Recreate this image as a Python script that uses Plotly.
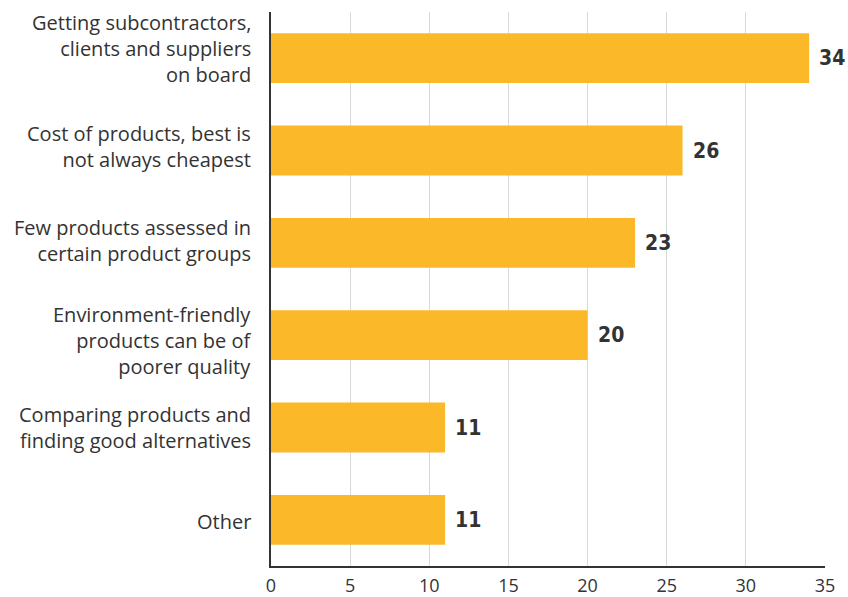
import plotly.graph_objects as go

categories = [
    "Getting subcontractors,<br>clients and suppliers<br>on board",
    "Cost of products, best is<br>not always cheapest",
    "Few products assessed in<br>certain product groups",
    "Environment-friendly<br>products can be of<br>poorer quality",
    "Comparing products and<br>finding good alternatives",
    "Other",
]
values = [34, 26, 23, 20, 11, 11]
x_ticks = [0, 5, 10, 15, 20, 25, 30, 35]

# small vertical nudges of the category labels (style only)
label_yshift = [10, 4, 2, -5, 0, -2]

fig = go.Figure(go.Bar(
    y=categories, x=values, orientation="h",
    marker=dict(color="#FBB829", line=dict(width=0)),
    width=0.54,
))

for c, v, dy in zip(categories, values, label_yshift):
    fig.add_annotation(
        x=v, y=c, text=f"{v}", showarrow=False,
        xanchor="left", xshift=8,
        font=dict(family="DejaVu Sans Condensed, Roboto", size=21, color="#333333", weight=700),
    )
    fig.add_annotation(
        x=0, xref="paper", y=c, text=c, showarrow=False,
        xanchor="right", align="right", xshift=-18, yshift=dy,
        font=dict(family="Open Sans", size=20, color="#333333"),
    )

fig.update_layout(
    width=848, height=597,
    margin=dict(l=271, r=23, t=12, b=31, autoexpand=False),
    plot_bgcolor="white", paper_bgcolor="white",
    showlegend=False,
    font=dict(family="Open Sans", size=20, color="#333333"),
)
fig.update_xaxes(
    range=[0, 35], tickvals=x_ticks, showgrid=True, gridcolor="#d9d9d9", gridwidth=1,
    showline=True, linecolor="#333333", linewidth=1.5, zeroline=False,
    tickfont=dict(size=18, color="#333333"), ticks="", ticklabelstandoff=3,
    automargin=False,
)
fig.update_yaxes(
    autorange="reversed", showline=True, linecolor="#333333", linewidth=1.5,
    showgrid=False, ticks="", showticklabels=False, automargin=False,
)

fig.write_html("out.html")
